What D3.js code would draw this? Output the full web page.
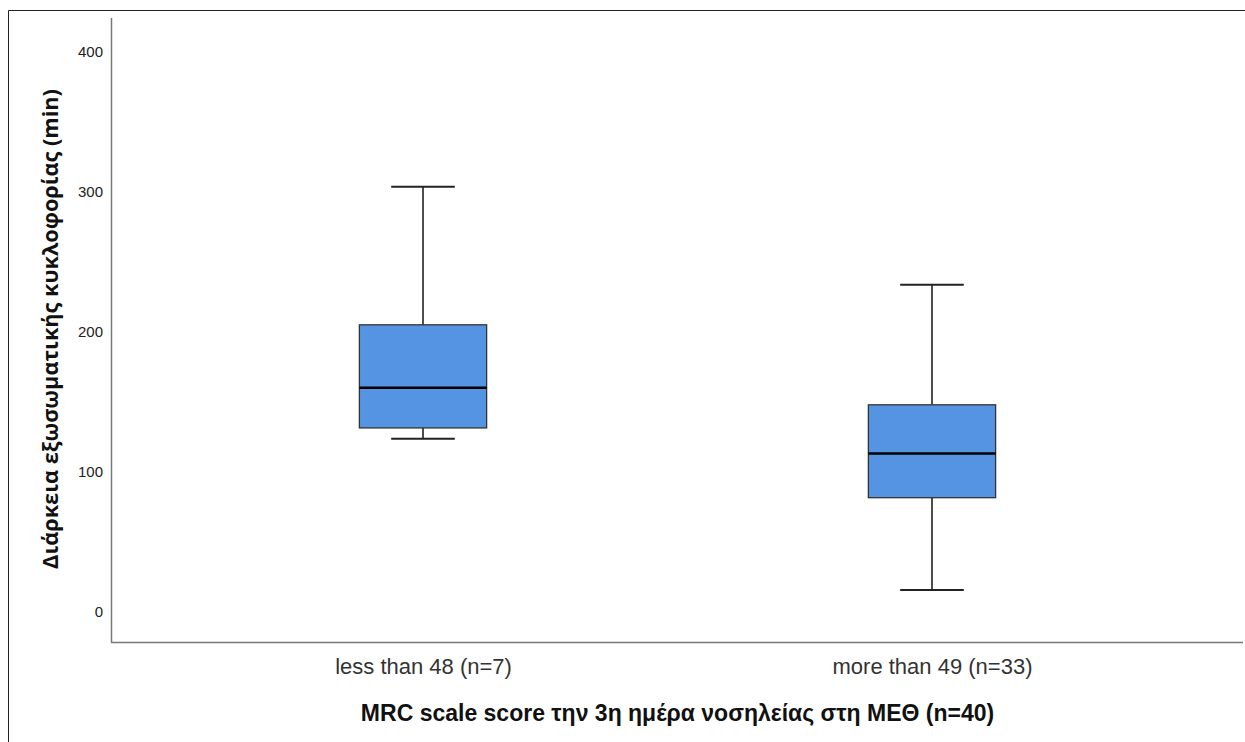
<!DOCTYPE html>
<html>
<head>
<meta charset="utf-8">
<script src="https://cdn.jsdelivr.net/npm/d3@7"></script>
<style>
  html, body { margin: 0; padding: 0; background: #fff; }
  svg { display: block; }
</style>
</head>
<body>
<svg id="chart" width="1245" height="742"></svg>
<script>
// Groups and five-number summaries (minutes)
const categories = ["less than 48 (n=7)", "more than 49 (n=33)"];
const whiskerLow  = [123.6, 15.7];
const q1          = [131.4, 81.6];
const median      = [160.0, 113.1];
const q3          = [205.0, 147.9];
const whiskerHigh = [303.6, 233.6];
const yTicks = [0, 100, 200, 300, 400];

const yTitle = "Διάρκεια εξωσωματικής κυκλοφορίας (min)";
const xTitle = "MRC scale score την 3η ημέρα νοσηλείας στη ΜΕΘ (n=40)";

const svg = d3.select("#chart");
const W = 1245, H = 742;
const plot = { left: 111, right: 1244, top: 18, bottom: 642 };
const sans = "Arial, 'Liberation Sans', sans-serif";

// outer frame (top and left edges)
svg.append("path")
  .attr("d", `M8.5,${H} L8.5,10.5 L${W},10.5`)
  .attr("fill", "none").attr("stroke", "#222").attr("stroke-width", 1);

const y = d3.scaleLinear()
  .domain([-21.4, 424])
  .range([plot.bottom, plot.top]);

const x = d3.scalePoint()
  .domain(categories)
  .range([plot.left, plot.right])
  .padding(0.613);

const boxW = x.step() * 0.25;
const capW = x.step() * 0.125;

// y axis (labels only, no tick marks)
const yAxis = svg.append("g")
  .attr("transform", `translate(${plot.left},0)`)
  .call(d3.axisLeft(y).tickValues(yTicks).tickSize(0).tickPadding(8));
yAxis.select(".domain").remove();
yAxis.selectAll("text")
  .attr("font-family", sans)
  .attr("font-size", 15).attr("fill", "#222");

// x axis (labels only)
const xAxis = svg.append("g")
  .attr("transform", `translate(0,${plot.bottom})`)
  .call(d3.axisBottom(x).tickSize(0).tickPadding(0));
xAxis.select(".domain").remove();
xAxis.selectAll("text")
  .attr("font-family", sans)
  .attr("font-size", 22).attr("fill", "#333")
  .attr("y", 32).attr("dy", 0);

// axis lines
svg.append("line")
  .attr("x1", plot.left + 0.5).attr("x2", plot.left + 0.5)
  .attr("y1", plot.top).attr("y2", plot.bottom + 0.5)
  .attr("stroke", "#777").attr("stroke-width", 1.5);
svg.append("line")
  .attr("x1", plot.left).attr("x2", plot.right - 1)
  .attr("y1", plot.bottom + 0.5).attr("y2", plot.bottom + 0.5)
  .attr("stroke", "#777").attr("stroke-width", 1.5);

// boxes
const data = categories.map((c, i) => ({
  c, lo: whiskerLow[i], q1: q1[i], med: median[i], q3: q3[i], hi: whiskerHigh[i]
}));

const g = svg.append("g").selectAll("g").data(data).join("g");

// whisker stems
g.append("line")
  .attr("x1", d => x(d.c)).attr("x2", d => x(d.c))
  .attr("y1", d => y(d.hi)).attr("y2", d => y(d.q3))
  .attr("stroke", "#222").attr("stroke-width", 1.6);
g.append("line")
  .attr("x1", d => x(d.c)).attr("x2", d => x(d.c))
  .attr("y1", d => y(d.q1)).attr("y2", d => y(d.lo))
  .attr("stroke", "#222").attr("stroke-width", 1.6);
// caps
g.append("line")
  .attr("x1", d => x(d.c) - capW / 2).attr("x2", d => x(d.c) + capW / 2)
  .attr("y1", d => y(d.hi)).attr("y2", d => y(d.hi))
  .attr("stroke", "#222").attr("stroke-width", 2);
g.append("line")
  .attr("x1", d => x(d.c) - capW / 2).attr("x2", d => x(d.c) + capW / 2)
  .attr("y1", d => y(d.lo)).attr("y2", d => y(d.lo))
  .attr("stroke", "#222").attr("stroke-width", 2);
// box
g.append("rect")
  .attr("x", d => x(d.c) - boxW / 2)
  .attr("width", boxW)
  .attr("y", d => y(d.q3))
  .attr("height", d => y(d.q1) - y(d.q3))
  .attr("fill", "#5594e2")
  .attr("stroke", "#333").attr("stroke-width", 1.3);
// median
g.append("line")
  .attr("x1", d => x(d.c) - boxW / 2).attr("x2", d => x(d.c) + boxW / 2)
  .attr("y1", d => y(d.med)).attr("y2", d => y(d.med))
  .attr("stroke", "#000").attr("stroke-width", 2.5);

// axis titles
svg.append("text")
  .attr("x", (plot.left + plot.right) / 2)
  .attr("y", 721)
  .attr("text-anchor", "middle")
  .attr("font-family", sans)
  .attr("font-size", 23).attr("font-weight", "bold").attr("fill", "#111")
  .text(xTitle);

svg.append("text")
  .attr("transform", `translate(58,329) rotate(-90)`)
  .attr("text-anchor", "middle")
  .attr("font-family", "'Open Sans', sans-serif")
  .attr("font-size", 21.7).attr("font-weight", "bold").attr("fill", "#111")
  .text(yTitle);
</script>
</body>
</html>
